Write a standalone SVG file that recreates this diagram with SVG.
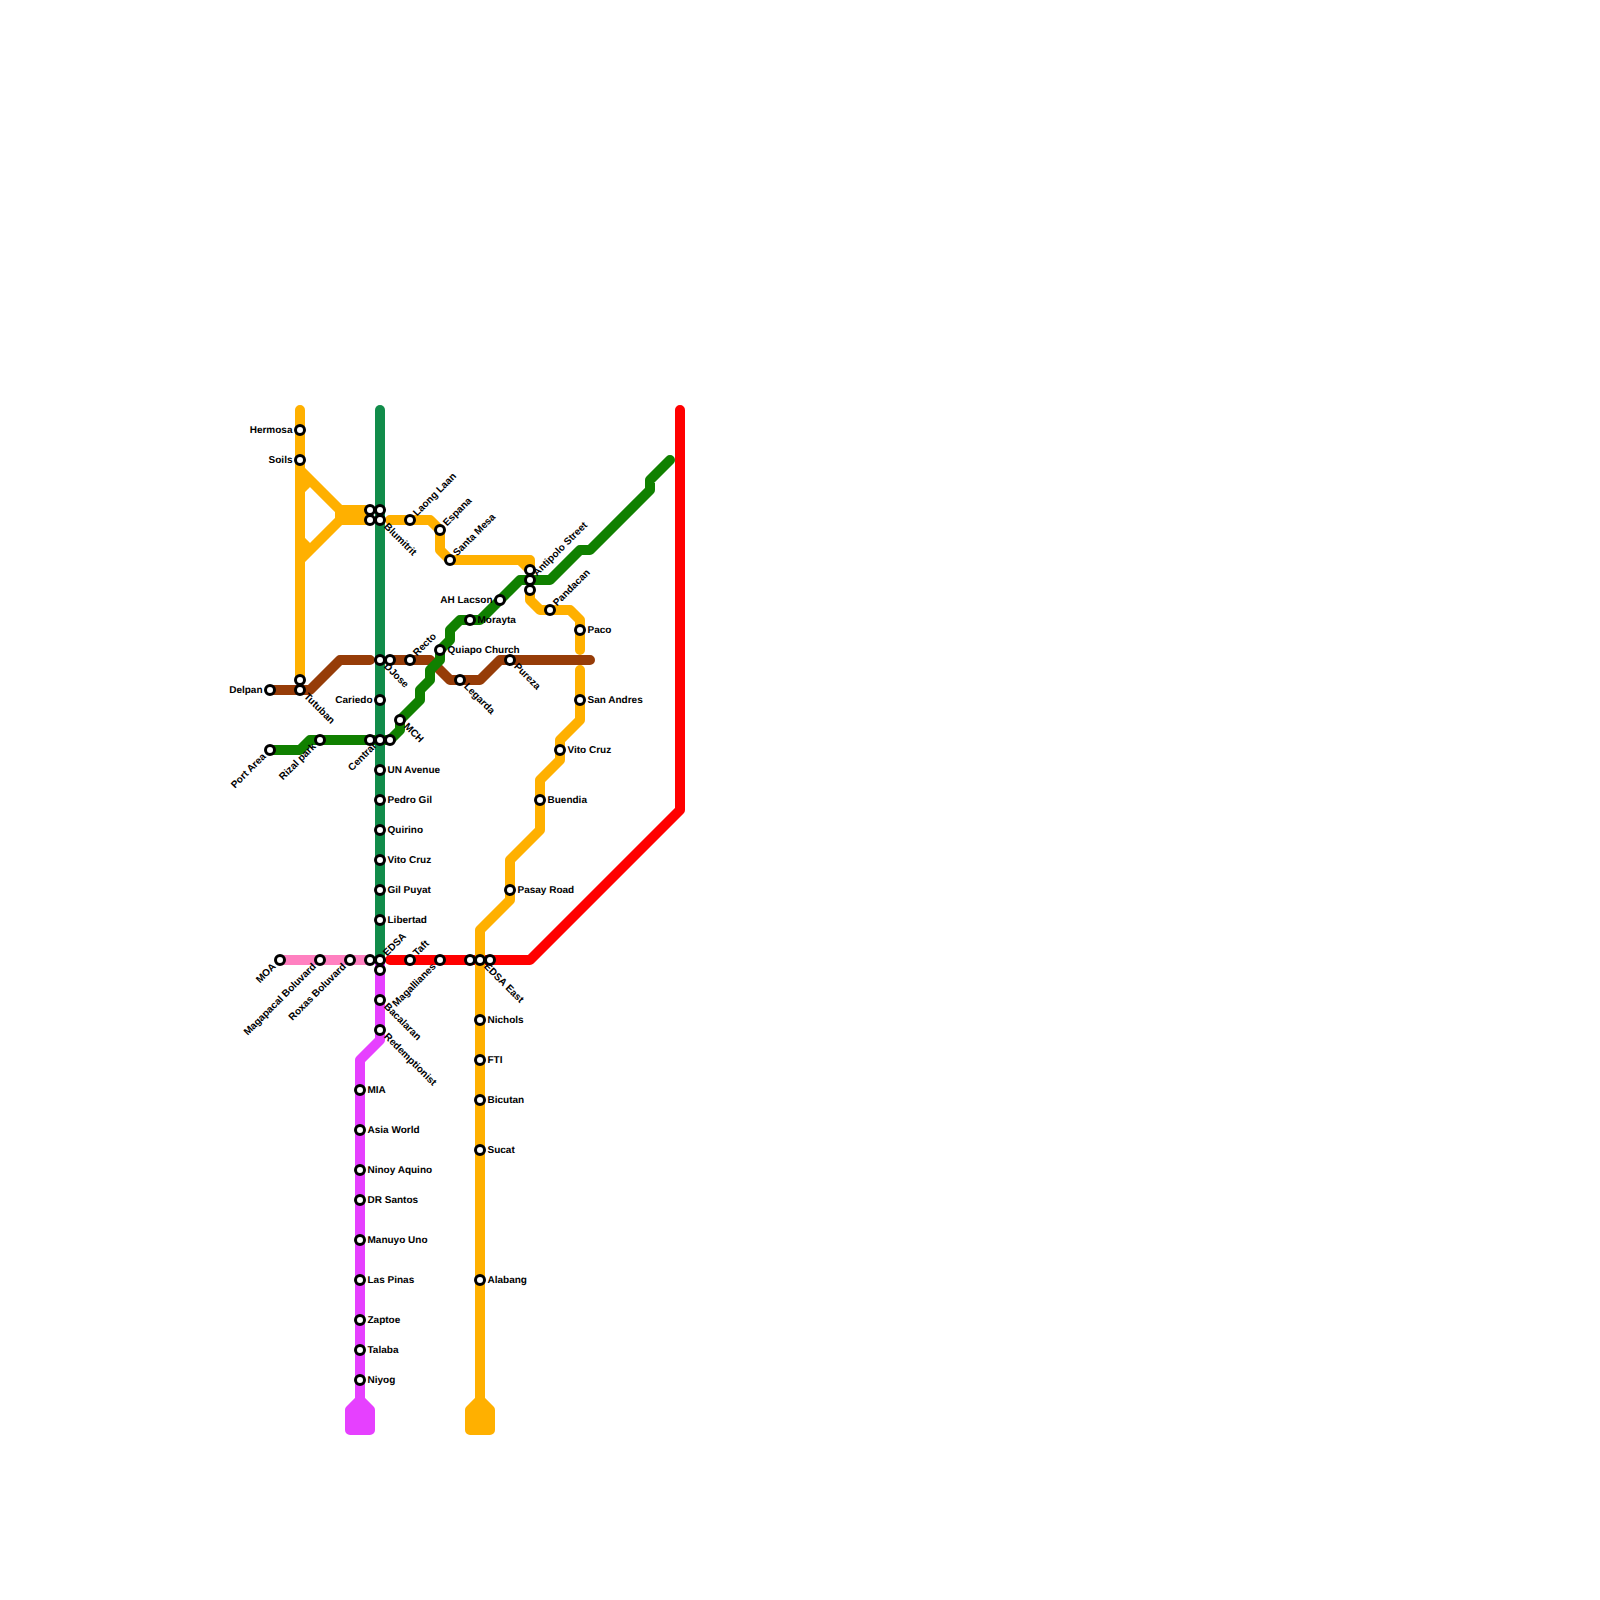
<svg xmlns="http://www.w3.org/2000/svg" width="1600" height="1600" viewBox="0 0 1600 1600">
<style>
.l{fill:none;stroke-width:10;stroke-linecap:round;stroke-linejoin:round}
.o{stroke:#ffb000}.b{stroke:#963c08}.g{stroke:#108000}.t{stroke:#118c4a}.r{stroke:#ff0000}.p{stroke:#ff80c0}.m{stroke:#e640ff}
circle{fill:#fff;stroke:#000;stroke-width:3}
text{font-family:"Liberation Sans",Arial,sans-serif;font-size:10px;font-weight:bold;fill:#000;text-rendering:geometricPrecision}
.e{text-anchor:end}
</style>
<rect width="1600" height="1600" fill="#fff"/>
<g id="connectors">
<path class="l r" d="M390 960H530L680 810V410"/>
<path class="l o" d="M300 410V680M300 470L340 510H370M300 560L340 520H370M340 510V520H370M300 490L310 480M300 540L310 550"/>
<path class="l o" d="M390 520H430L440 530V550L450 560H530V570M520 560L530 570M530 590V600L540 610H570L580 620V650"/>
<path class="l o" d="M580 670V720L560 740V760L540 780V830L510 860V900L480 930V1400M480 1400L470 1410V1430H490V1410ZM480 1410V1430"/>
<path class="l m" d="M380 960V1040L360 1060V1400M360 1400L350 1410V1430H370V1410ZM360 1410V1430"/>
<path class="l p" d="M280 960H370"/>
<path class="l t" d="M380 410V960"/>
<path class="l b" d="M270 690H310L340 660H370M390 660H430L450 680H480L500 660H590"/>
<path class="l g" d="M270 750H300L310 740H390L400 730V720L420 700V690L430 680V670L440 660V650L450 640V630L460 620H480L520 580H550L580 550H590L650 490V480L670 460"/>
</g>
<g id="stations">
<g id="hermosa"><circle cx="300" cy="430" r="4.5"/><text x="292.5" y="432.5" class="e">Hermosa</text></g>
<g id="soils"><circle cx="300" cy="460" r="4.5"/><text x="292.5" y="462.5" class="e">Soils</text></g>
<g id="s300-680"><circle cx="300" cy="680" r="4.5"/></g>
<g id="tutuban"><circle cx="300" cy="690" r="4.5"/><text transform="translate(300 690) rotate(45)" x="7.5" y="2.5">Tutuban</text></g>
<g id="delpan"><circle cx="270" cy="690" r="4.5"/><text x="262.5" y="692.5" class="e">Delpan</text></g>
<g id="port-area"><circle cx="270" cy="750" r="4.5"/><text transform="translate(270 750) rotate(-45)" x="-7.5" y="2.5" class="e">Port Area</text></g>
<g id="rizal-park"><circle cx="320" cy="740" r="4.5"/><text transform="translate(320 740) rotate(-45)" x="-7.5" y="2.5" class="e">Rizal park</text></g>
<g id="s370-740"><circle cx="370" cy="740" r="4.5"/></g>
<g id="central"><circle cx="380" cy="740" r="4.5"/><text transform="translate(380 740) rotate(-45)" x="-7.5" y="2.5" class="e">Central</text></g>
<g id="s390-740"><circle cx="390" cy="740" r="4.5"/></g>
<g id="mch"><circle cx="400" cy="720" r="4.5"/><text transform="translate(400 720) rotate(45)" x="7.5" y="2.5">MCH</text></g>
<g id="s370-510"><circle cx="370" cy="510" r="4.5"/></g>
<g id="s370-520"><circle cx="370" cy="520" r="4.5"/></g>
<g id="s380-510"><circle cx="380" cy="510" r="4.5"/></g>
<g id="blumitrit"><circle cx="380" cy="520" r="4.5"/><text transform="translate(380 520) rotate(45)" x="7.5" y="2.5">Blumitrit</text></g>
<g id="laong-laan"><circle cx="410" cy="520" r="4.5"/><text transform="translate(410 520) rotate(-45)" x="7.5" y="2.5">Laong Laan</text></g>
<g id="espana"><circle cx="440" cy="530" r="4.5"/><text transform="translate(440 530) rotate(-45)" x="7.5" y="2.5">Espana</text></g>
<g id="santa-mesa"><circle cx="450" cy="560" r="4.5"/><text transform="translate(450 560) rotate(-45)" x="7.5" y="2.5">Santa Mesa</text></g>
<g id="s530-570"><circle cx="530" cy="570" r="4.5"/></g>
<g id="antipolo"><circle cx="530" cy="580" r="4.5"/><text transform="translate(530 580) rotate(-45)" x="7.5" y="2.5">Antipolo Street</text></g>
<g id="s530-590"><circle cx="530" cy="590" r="4.5"/></g>
<g id="ah-lacson"><circle cx="500" cy="600" r="4.5"/><text x="492.5" y="602.5" class="e">AH Lacson</text></g>
<g id="morayta"><circle cx="470" cy="620" r="4.5"/><text x="477.5" y="622.5">Morayta</text></g>
<g id="quiapo"><circle cx="440" cy="650" r="4.5"/><text x="447.5" y="652.5">Quiapo Church</text></g>
<g id="pandacan"><circle cx="550" cy="610" r="4.5"/><text transform="translate(550 610) rotate(-45)" x="7.5" y="2.5">Pandacan</text></g>
<g id="paco"><circle cx="580" cy="630" r="4.5"/><text x="587.5" y="632.5">Paco</text></g>
<g id="pureza"><circle cx="510" cy="660" r="4.5"/><text transform="translate(510 660) rotate(45)" x="7.5" y="2.5">Pureza</text></g>
<g id="legarda"><circle cx="460" cy="680" r="4.5"/><text transform="translate(460 680) rotate(45)" x="7.5" y="2.5">Legarda</text></g>
<g id="recto"><circle cx="410" cy="660" r="4.5"/><text transform="translate(410 660) rotate(-45)" x="7.5" y="2.5">Recto</text></g>
<g id="djose"><circle cx="380" cy="660" r="4.5"/><text transform="translate(380 660) rotate(45)" x="7.5" y="2.5">DJose</text></g>
<g id="s390-660"><circle cx="390" cy="660" r="4.5"/></g>
<g id="cariedo"><circle cx="380" cy="700" r="4.5"/><text x="372.5" y="702.5" class="e">Cariedo</text></g>
<g id="san-andres"><circle cx="580" cy="700" r="4.5"/><text x="587.5" y="702.5">San Andres</text></g>
<g id="vito-cruz-e"><circle cx="560" cy="750" r="4.5"/><text x="567.5" y="752.5">Vito Cruz</text></g>
<g id="buendia"><circle cx="540" cy="800" r="4.5"/><text x="547.5" y="802.5">Buendia</text></g>
<g id="pasay-road"><circle cx="510" cy="890" r="4.5"/><text x="517.5" y="892.5">Pasay Road</text></g>
<g id="un-avenue"><circle cx="380" cy="770" r="4.5"/><text x="387.5" y="772.5">UN Avenue</text></g>
<g id="pedro-gil"><circle cx="380" cy="800" r="4.5"/><text x="387.5" y="802.5">Pedro Gil</text></g>
<g id="quirino"><circle cx="380" cy="830" r="4.5"/><text x="387.5" y="832.5">Quirino</text></g>
<g id="vito-cruz"><circle cx="380" cy="860" r="4.5"/><text x="387.5" y="862.5">Vito Cruz</text></g>
<g id="gil-puyat"><circle cx="380" cy="890" r="4.5"/><text x="387.5" y="892.5">Gil Puyat</text></g>
<g id="libertad"><circle cx="380" cy="920" r="4.5"/><text x="387.5" y="922.5">Libertad</text></g>
<g id="s370-960"><circle cx="370" cy="960" r="4.5"/></g>
<g id="edsa"><circle cx="380" cy="960" r="4.5"/><text transform="translate(380 960) rotate(-45)" x="7.5" y="2.5">EDSA</text></g>
<g id="s380-970"><circle cx="380" cy="970" r="4.5"/></g>
<g id="roxas"><circle cx="350" cy="960" r="4.5"/><text transform="translate(350 960) rotate(-45)" x="-7.5" y="2.5" class="e">Roxas Boluvard</text></g>
<g id="magapacal"><circle cx="320" cy="960" r="4.5"/><text transform="translate(320 960) rotate(-45)" x="-7.5" y="2.5" class="e">Magapacal Boluvard</text></g>
<g id="moa"><circle cx="280" cy="960" r="4.5"/><text transform="translate(280 960) rotate(-45)" x="-7.5" y="2.5" class="e">MOA</text></g>
<g id="bacalaran"><circle cx="380" cy="1000" r="4.5"/><text transform="translate(380 1000) rotate(45)" x="7.5" y="2.5">Bacalaran</text></g>
<g id="redemptionist"><circle cx="380" cy="1030" r="4.5"/><text transform="translate(380 1030) rotate(45)" x="7.5" y="2.5">Redemptionist</text></g>
<g id="taft"><circle cx="410" cy="960" r="4.5"/><text transform="translate(410 960) rotate(-45)" x="7.5" y="2.5">Taft</text></g>
<g id="magallianes"><circle cx="440" cy="960" r="4.5"/><text transform="translate(440 960) rotate(-45)" x="-7.5" y="2.5" class="e">Magallianes</text></g>
<g id="s470-960"><circle cx="470" cy="960" r="4.5"/></g>
<g id="edsa-east"><circle cx="480" cy="960" r="4.5"/><text transform="translate(480 960) rotate(45)" x="7.5" y="2.5">EDSA East</text></g>
<g id="s490-960"><circle cx="490" cy="960" r="4.5"/></g>
<g id="nichols"><circle cx="480" cy="1020" r="4.5"/><text x="487.5" y="1022.5">Nichols</text></g>
<g id="fti"><circle cx="480" cy="1060" r="4.5"/><text x="487.5" y="1062.5">FTI</text></g>
<g id="bicutan"><circle cx="480" cy="1100" r="4.5"/><text x="487.5" y="1102.5">Bicutan</text></g>
<g id="sucat"><circle cx="480" cy="1150" r="4.5"/><text x="487.5" y="1152.5">Sucat</text></g>
<g id="alabang"><circle cx="480" cy="1280" r="4.5"/><text x="487.5" y="1282.5">Alabang</text></g>
<g id="mia"><circle cx="360" cy="1090" r="4.5"/><text x="367.5" y="1092.5">MIA</text></g>
<g id="asia-world"><circle cx="360" cy="1130" r="4.5"/><text x="367.5" y="1132.5">Asia World</text></g>
<g id="ninoy"><circle cx="360" cy="1170" r="4.5"/><text x="367.5" y="1172.5">Ninoy Aquino</text></g>
<g id="dr-santos"><circle cx="360" cy="1200" r="4.5"/><text x="367.5" y="1202.5">DR Santos</text></g>
<g id="manuyo"><circle cx="360" cy="1240" r="4.5"/><text x="367.5" y="1242.5">Manuyo Uno</text></g>
<g id="las-pinas"><circle cx="360" cy="1280" r="4.5"/><text x="367.5" y="1282.5">Las Pinas</text></g>
<g id="zaptoe"><circle cx="360" cy="1320" r="4.5"/><text x="367.5" y="1322.5">Zaptoe</text></g>
<g id="talaba"><circle cx="360" cy="1350" r="4.5"/><text x="367.5" y="1352.5">Talaba</text></g>
<g id="niyog"><circle cx="360" cy="1380" r="4.5"/><text x="367.5" y="1382.5">Niyog</text></g>
</g>
</svg>
